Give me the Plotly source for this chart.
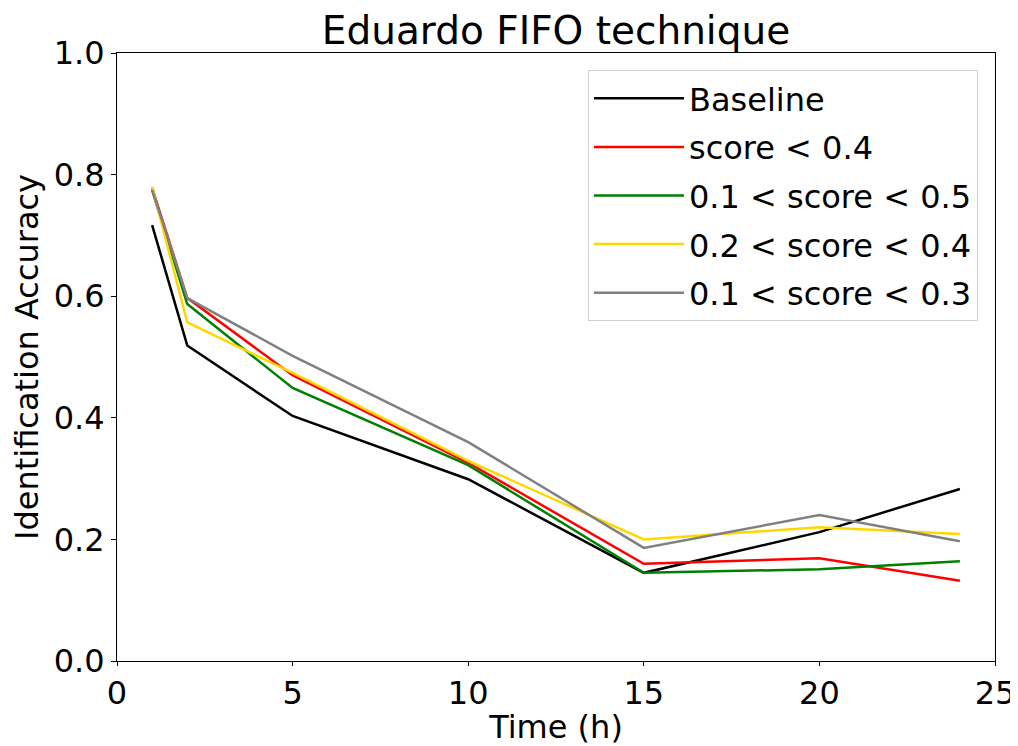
import plotly.graph_objects as go

time_h = [1, 2, 5, 10, 15, 20, 24]
series_names = ["Baseline", "score < 0.4", "0.1 < score < 0.5", "0.2 < score < 0.4", "0.1 < score < 0.3"]
baseline = [0.717, 0.519, 0.403, 0.299, 0.145, 0.212, 0.283]
score_lt_04 = [0.778, 0.597, 0.470, 0.326, 0.160, 0.169, 0.132]
score_01_05 = [0.775, 0.587, 0.449, 0.322, 0.145, 0.151, 0.164]
score_02_04 = [0.780, 0.557, 0.474, 0.329, 0.200, 0.220, 0.209]
score_01_03 = [0.775, 0.597, 0.502, 0.360, 0.186, 0.240, 0.197]
colors = ["black", "red", "green", "gold", "gray"]

fig = go.Figure()
for i, (name, vals, c) in enumerate(zip(series_names, [baseline, score_lt_04, score_01_05, score_02_04, score_01_03], colors)):
    fig.add_trace(go.Scatter(x=time_h, y=vals, mode="lines", name=name, legendgroup=f"g{i}",
                             line=dict(color=c, width=2.5)))

font = "DejaVu Sans"
fs = 32
# page body has an 8px margin, so figure is sized/offset accordingly
W, H = 1010, 738
fig.update_layout(
    width=W, height=H,
    margin=dict(l=109, r=23, t=45, b=85),
    paper_bgcolor="white", plot_bgcolor="white",
    font=dict(family=font, size=fs, color="black"),
    title=dict(text="Eduardo FIFO technique", x=0.5, xanchor="center", xref="paper",
               y=1 - 22 / H, yanchor="middle", yref="container", font=dict(size=39)),
    showlegend=True,
    legend=dict(x=0.9806, y=0.972, xanchor="right", yanchor="top",
                bordercolor="#d0d0d0", borderwidth=1, bgcolor="rgba(255,255,255,0.8)",
                font=dict(size=fs), tracegroupgap=4, itemwidth=90),
)
fig.update_xaxes(range=[0, 25], tickvals=[0, 5, 10, 15, 20, 25], showgrid=False, zeroline=False,
                 showline=True, linecolor="black", linewidth=1, mirror=True,
                 ticks="outside", ticklen=4, tickcolor="black", automargin="left",
                 title=dict(text="Time (h)", font=dict(size=fs), standoff=1), tickfont=dict(size=fs))
fig.update_yaxes(range=[0, 1], tickvals=[0, 0.2, 0.4, 0.6, 0.8, 1.0], tickformat=".1f", showgrid=False, zeroline=False,
                 showline=True, linecolor="black", linewidth=1, mirror=True,
                 ticks="outside", ticklen=5, tickcolor="black", automargin="top",
                 title=dict(text="Identification Accuracy", font=dict(size=fs), standoff=8), tickfont=dict(size=fs))

fig.write_html("out.html")
